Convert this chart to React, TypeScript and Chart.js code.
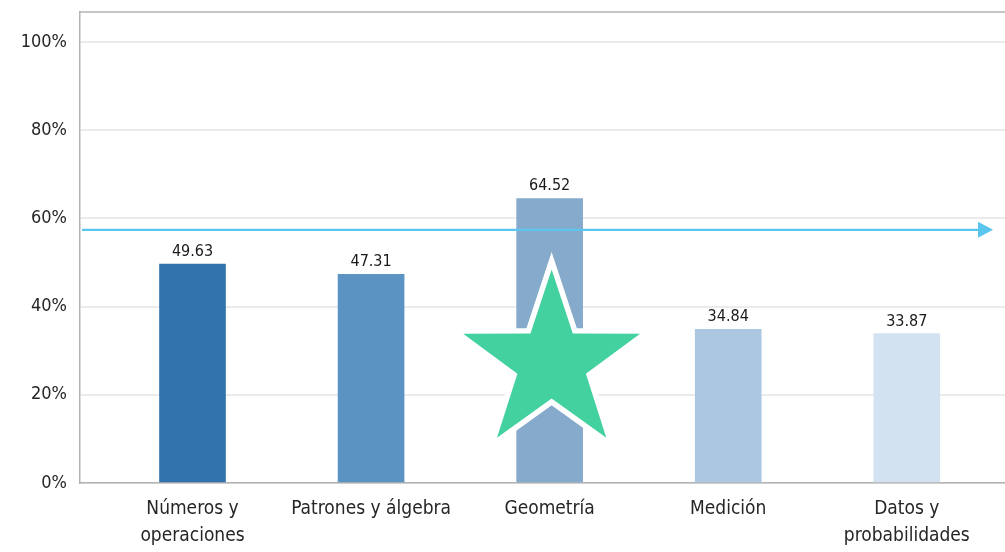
import React, { useEffect, useRef } from "react";
import { Chart, registerables } from "chart.js";

Chart.register(...registerables);

// ---- data ----
const CATEGORIES: string[][] = [
  ["Números y", "operaciones"],
  ["Patrones y álgebra"],
  ["Geometría"],
  ["Medición"],
  ["Datos y", "probabilidades"],
];
const VALUES: number[] = [49.63, 47.31, 64.52, 34.84, 33.87];
const BAR_COLORS: string[] = ["#3373ad", "#5b93c3", "#86aacc", "#acc8e1", "#d2e2f0"];
const Y_TICKS: number[] = [0, 20, 40, 60, 80, 100];
const Y_MAX = 106.8;
const X_MIN = -0.63;
const X_MAX = 4.55;
const REFERENCE_VALUE = 57.4;
const STAR_CATEGORY = 2;
const STAR_VALUE = 27.3;

const FONT_FAMILY = "'DejaVu Sans Condensed', 'DejaVu Sans', sans-serif";

const overlayPlugin = {
  id: "overlay",
  afterDatasetsDraw(chart: any) {
    const ctx: CanvasRenderingContext2D = chart.ctx;
    const { left, right, top } = chart.chartArea;
    const xs = chart.scales.x;
    const ys = chart.scales.y;
    ctx.save();

    // top frame line
    ctx.strokeStyle = "#b3b3b3";
    ctx.lineWidth = 1.5;
    ctx.beginPath();
    ctx.moveTo(left, top);
    ctx.lineTo(right, top);
    ctx.stroke();

    // value labels
    const meta = chart.getDatasetMeta(0);
    ctx.font = `16px ${FONT_FAMILY}`;
    ctx.fillStyle = "#1a1a1a";
    ctx.textAlign = "center";
    ctx.textBaseline = "alphabetic";
    meta.data.forEach((el: any, i: number) => {
      ctx.fillText(VALUES[i].toFixed(2), el.x, el.y - 8);
    });

    // reference arrow
    const ry = ys.getPixelForValue(REFERENCE_VALUE);
    const tipX = right - 12;
    ctx.strokeStyle = "#5bc6ed";
    ctx.fillStyle = "#5bc6ed";
    ctx.lineWidth = 2.4;
    ctx.beginPath();
    ctx.moveTo(left + 2, ry);
    ctx.lineTo(tipX - 12, ry);
    ctx.stroke();
    ctx.beginPath();
    ctx.moveTo(tipX, ry);
    ctx.lineTo(tipX - 15, ry - 8);
    ctx.lineTo(tipX - 15, ry + 8);
    ctx.closePath();
    ctx.fill();

    // star
    const cx = xs.getPixelForValue(STAR_CATEGORY) + 2;
    const cy = ys.getPixelForValue(STAR_VALUE);
    const R = 93;
    const r = 36;
    ctx.beginPath();
    for (let k = 0; k < 10; k++) {
      const a = -Math.PI / 2 + (k * Math.PI) / 5;
      const rad = k % 2 === 0 ? R : r;
      const px = cx + rad * Math.cos(a);
      const py = cy + rad * Math.sin(a);
      if (k === 0) ctx.moveTo(px, py);
      else ctx.lineTo(px, py);
    }
    ctx.closePath();
    ctx.lineJoin = "miter";
    ctx.miterLimit = 10;
    ctx.lineWidth = 11;
    ctx.strokeStyle = "#ffffff";
    ctx.stroke();
    ctx.fillStyle = "#43d1a0";
    ctx.fill();

    ctx.restore();
  },
};

export default function App() {
  const canvasRef = useRef<HTMLCanvasElement | null>(null);

  useEffect(() => {
    if (!canvasRef.current) return;
    const chart = new Chart(canvasRef.current, {
      type: "bar",
      data: {
        datasets: [
          {
            data: VALUES.map((v, i) => ({ x: i, y: v })),
            backgroundColor: BAR_COLORS,
            borderWidth: 0,
            barThickness: 66,
          },
        ],
      },
      options: {
        responsive: false,
        animation: false,
        events: [],
        layout: { padding: { top: 12, left: 0, right: 0, bottom: 0 }, autoPadding: false },
        plugins: { legend: { display: false }, tooltip: { enabled: false } },
        scales: {
          x: {
            type: "linear",
            offset: false,
            min: X_MIN,
            max: X_MAX,
            afterBuildTicks: (scale: any) => {
              scale.ticks = CATEGORIES.map((_, i) => ({ value: i }));
            },
            afterFit: (scale: any) => {
              scale.height = 69;
              scale.paddingLeft = 0;
              scale.paddingRight = 0;
            },
            grid: { display: false, drawTicks: false, offset: false },
            border: { display: true, color: "#b3b3b3", width: 1.5 },
            ticks: {
              autoSkip: false,
              maxRotation: 0,
              minRotation: 0,
              padding: 13,
              color: "#262626",
              font: { family: FONT_FAMILY, size: 19, lineHeight: "27px" },
              callback: (value: any) => {
                const c = CATEGORIES[Math.round(Number(value))];
                return c ? c : "";
              },
            },
          },
          y: {
            type: "linear",
            min: 0,
            max: Y_MAX,
            afterBuildTicks: (scale: any) => {
              scale.ticks = Y_TICKS.map((v) => ({ value: v }));
            },
            afterFit: (scale: any) => {
              scale.width = 80;
              scale.paddingTop = 0;
              scale.paddingBottom = 0;
            },
            grid: { color: "#ebebeb", lineWidth: 2, drawTicks: false },
            border: { display: true, color: "#b3b3b3", width: 1.5 },
            ticks: {
              padding: 13,
              color: "#262626",
              font: { family: FONT_FAMILY, size: 18 },
              callback: (value: any) => `${value}%`,
            },
          },
        },
      },
      plugins: [overlayPlugin],
    });
    return () => chart.destroy();
  }, []);

  return (
    <div style={{ position: "fixed", left: 0, top: 0, width: 1005, height: 552, background: "#ffffff" }}>
      <canvas ref={canvasRef} width={1005} height={552} />
    </div>
  );
}
